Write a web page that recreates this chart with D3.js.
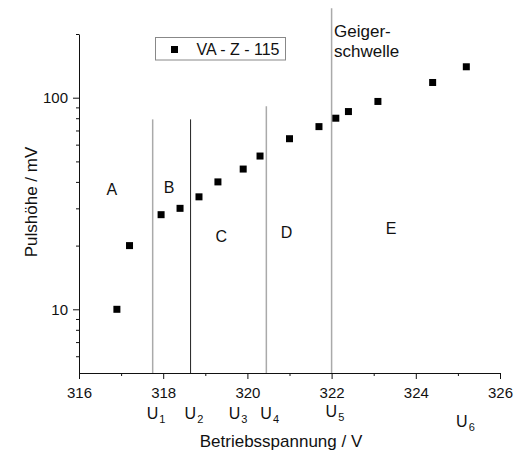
<!DOCTYPE html>
<html>
<head>
<meta charset="utf-8">
<script src="https://cdn.jsdelivr.net/npm/d3@7"></script>
<style>
  body { margin: 0; background: #fff; }
  svg { font-family: Arial, "Liberation Sans", sans-serif; }
</style>
</head>
<body>
<svg id="chart" width="520" height="454"></svg>
<script>
// measured points
const voltage = [316.9, 317.2, 317.95, 318.4, 318.85, 319.3, 319.9, 320.3, 321.0, 321.7, 322.1, 322.4, 323.1, 324.4, 325.2];
const pulse = [10, 20, 28, 30, 34, 40, 46, 53, 64, 73, 80, 86, 96, 118, 140];

// region boundaries (vertical lines)
const boundaryV = [317.75, 318.65, 320.45, 322.0];
const boundaryTop = [79, 79, 91, 265];
const boundaryColor = ['#aaa', '#222', '#aaa', '#aaa'];

// region letters
const regionNames = ['A', 'B', 'C', 'D', 'E'];
const regionV = [316.78, 318.14, 319.38, 320.93, 323.41];
const regionP = [37, 37.5, 22, 23, 24];

// U markers under the axis
const uIndex = ['1', '2', '3', '4', '5', '6'];
const uV = [317.75, 318.65, 319.7, 320.45, 322.0, 325.1];
const uDrop = [0, 0.5, 0.5, 0.5, -1.5, 8.5];

const xMajor = [316, 318, 320, 322, 324, 326];
const xMinor = [317, 319, 321, 323, 325];
const yMajor = [10, 100];
const yMinor = [6, 7, 8, 9, 20, 30, 40, 50, 60, 70, 80, 90, 200];

const svg = d3.select('#chart');
const x = d3.scaleLinear().domain([316, 326]).range([79, 500]);
const y = d3.scaleLog().domain([5, 200]).range([373, 34]);

//axes
const gx = svg.append('g').attr('transform', 'translate(0,373)');
gx.call(d3.axisBottom(x).tickValues(xMajor).tickFormat(d3.format('d')).tickSize(6).tickSizeOuter(0).tickPadding(8));
gx.append('g').call(d3.axisBottom(x).tickValues(xMinor).tickFormat('').tickSize(3).tickSizeOuter(0))
  .select('.domain').remove();

const gy = svg.append('g').attr('transform', 'translate(79,0)');
gy.call(d3.axisLeft(y).tickValues(yMajor).tickFormat(d3.format('d')).tickSize(6).tickSizeOuter(0).tickPadding(5));
gy.append('g').call(d3.axisLeft(y).tickValues(yMinor).tickFormat('').tickSize(3).tickSizeOuter(0))
  .select('.domain').remove();

svg.selectAll('.tick text').attr('font-size', 15).attr('fill', '#111').attr('font-family', 'Arial, "Liberation Sans", sans-serif');
svg.selectAll('.domain, .tick line').attr('stroke', '#111');

//region lines
svg.append('g').selectAll('line').data(boundaryV).join('line')
  .attr('x1', d => x(d)).attr('x2', d => x(d))
  .attr('y1', 373).attr('y2', (d, i) => y(boundaryTop[i]))
  .attr('stroke', (d, i) => boundaryColor[i])
  .attr('stroke-width', (d, i) => i == 1 ? 1 : 1.5);

svg.append('g').selectAll('text').data(regionNames).join('text')
  .attr('x', (d, i) => x(regionV[i])).attr('y', (d, i) => y(regionP[i]))
  .attr('dy', '0.35em').attr('text-anchor', 'middle')
  .attr('font-size', 16).attr('fill', '#111').text(d => d);

const geiger = svg.append('text').attr('x', x(322) + 2.5).attr('font-size', 17).attr('fill', '#111');
geiger.append('tspan').attr('x', x(322) + 2.5).attr('y', 37).text('Geiger-');
geiger.append('tspan').attr('x', x(322) + 2.5).attr('y', 57).text('schwelle');

//points
svg.append('g').selectAll('rect').data(voltage).join('rect')
  .attr('x', (d, i) => x(d) - 3.5).attr('y', (d, i) => y(pulse[i]) - 3.5)
  .attr('width', 7).attr('height', 7).attr('fill', '#000');

//U labels
const ul = svg.append('g').selectAll('text').data(uIndex).join('text')
  .attr('x', (d, i) => x(uV[i]) - 6).attr('y', (d, i) => 418.5 + uDrop[i])
  .attr('font-size', 16).attr('fill', '#111');
ul.append('tspan').text('U');
ul.append('tspan').attr('font-size', 11).attr('dy', 4).attr('dx', 1).text(d => d);

//legend
const leg = svg.append('g');
leg.append('rect').attr('x', 155.5).attr('y', 37.5).attr('width', 130).attr('height', 22.5)
  .attr('fill', 'none').attr('stroke', '#888');
leg.append('rect').attr('x', 171).attr('y', 46).attr('width', 7).attr('height', 7).attr('fill', '#000');
leg.append('text').attr('x', 196.5).attr('y', 55).attr('font-size', 16).attr('fill', '#111').text('VA - Z - 115');

//titles
svg.append('text').attr('x', 281).attr('y', 447).attr('text-anchor', 'middle')
  .attr('font-size', 17).attr('fill', '#111').text('Betriebsspannung / V');
svg.append('text').attr('transform', 'translate(37,202) rotate(-90)').attr('text-anchor', 'middle')
  .attr('font-size', 17).attr('fill', '#111').text('Pulshöhe / mV');
</script>
</body>
</html>
